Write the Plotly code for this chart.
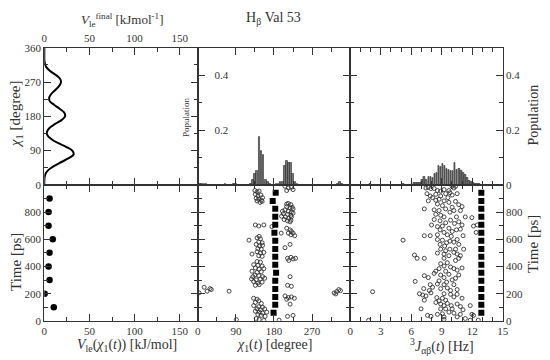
import plotly.graph_objects as go

# ---------------- data ----------------
# top-left: final local-elevation potential vs chi1
vle_chi = [0, 10, 20, 30, 40, 50, 60, 70, 80, 90, 100, 110, 120, 130, 140, 150, 160, 170, 180,
           190, 200, 210, 220, 230, 240, 250, 260, 270, 280, 290, 300, 310, 320, 330, 340, 350, 360]
vle_final = [0, 0, 0.3, 1.5, 5, 11, 19, 27, 32.5, 31, 24, 15, 8, 3.5, 3, 6, 12, 19, 23,
             22, 17, 11, 6, 5.5, 8, 12.5, 16.5, 18.5, 17, 12, 6, 2, 0.5, 0, 0, 0, 0]

# bottom-left: V_le(chi1(t)) snapshots
dot_time = [100, 200, 300, 400, 500, 600, 700, 800, 900]
dot_vle = [10.5, 0.4, 5.8, 4.7, 5.8, 9.4, 4.7, 4.7, 5.8]

# top-middle: chi1 population histogram
chi_bins = [5, 10, 15, 20, 65, 85, 90, 125, 130, 135, 140, 145, 150, 155, 160, 165, 170,
            185, 190, 195, 200, 205, 210, 215, 220, 225, 230, 235, 330, 335, 340]
chi_pop = [0.004, 0.004, 0.004, 0.004, 0.003, 0.004, 0.004, 0.005, 0.02, 0.04, 0.05, 0.175,
           0.125, 0.108, 0.02, 0.01, 0.003, 0.005, 0.005, 0.01, 0.01, 0.07, 0.086, 0.08,
           0.079, 0.04, 0.01, 0.005, 0.005, 0.012, 0.005]

# top-right: 3J population histogram
j_bins = [1.9, 5.2, 6.3, 6.5, 6.7, 6.9, 7.1, 7.3, 7.5, 7.7, 7.9, 8.1, 8.3, 8.5, 8.7, 8.9, 9.1,
          9.3, 9.5, 9.7, 9.9, 10.1, 10.3, 10.5, 10.7, 10.9, 11.1, 11.3, 11.5, 11.7, 11.9,
          12.1, 12.3, 12.5, 12.7]
j_pop = [0.004, 0.004, 0.006, 0.006, 0.006, 0.008, 0.02, 0.03, 0.02, 0.03, 0.03, 0.025, 0.04,
         0.045, 0.07, 0.065, 0.076, 0.07, 0.06, 0.055, 0.05, 0.05, 0.081, 0.055, 0.06, 0.05,
         0.045, 0.035, 0.025, 0.015, 0.01, 0.006, 0.005, 0.005, 0.004]

# bottom-middle: chi1(t) trajectory (open circles)
traj_chi = [135, 140, 145, 136, 142, 149, 138, 144, 150, 153, 140, 147, 152,
            206, 214, 221, 225, 210,
            214, 220, 210, 218, 223, 206, 214, 221, 202, 212, 220, 225, 207, 215, 221, 204,
            212, 220, 198, 210, 225, 218, 200,
            136, 144, 156, 175, 197,
            210, 218, 221, 225, 214, 229, 220,
            121, 140, 148, 144, 152, 138, 146, 153, 142, 150, 140, 148, 156, 144, 152, 128,
            218, 206, 145,
            212, 220, 225, 231, 215,
            140, 148, 132, 142, 152, 136, 145, 156, 128, 140, 150, 135, 144, 153, 127, 138,
            148, 132, 142, 152, 136, 145, 158, 130,
            218, 212, 221,
            206, 214, 221, 228, 210, 218,
            132, 140, 144, 136, 150, 132, 144, 153, 140, 148, 158, 136, 145, 153, 163, 142,
            150, 159, 138, 145, 156, 192, 212, 225,
            15, 22, 29, 32, 3, 74, 91, 322, 328, 333, 337, 326]
traj_time = [958, 949, 954, 930, 918, 925, 901, 894, 887, 906, 882, 871, 878,
             989, 977, 982, 965, 958,
             863, 854, 840, 830, 835, 816, 806, 799, 788, 783, 776, 792, 764, 754, 764, 745,
             735, 740, 769, 859, 823, 728, 806,
             705, 697, 705, 693, 645,
             681, 669, 657, 645, 645, 626, 633,
             593, 610, 603, 579, 574, 562, 550, 555, 531, 527, 508, 498, 503, 479, 474, 491,
             562, 538, 621,
             460, 467, 455, 460, 444,
             436, 432, 413, 408, 403, 389, 380, 384, 365, 356, 361, 337, 332, 325, 308, 301,
             308, 289, 278, 285, 261, 266, 313, 325,
             325, 261, 254,
             183, 171, 176, 166, 159, 123,
             166, 159, 147, 135, 128, 112, 104, 100, 88, 81, 88, 71, 64, 57, 64, 47,
             40, 33, 17, 10, 3, 5, 33, 40,
             247, 218, 237, 230, 206, 218, 9, 205, 215, 230, 222, 198]

# bottom-right: 3J(t) trajectory (open circles)
trajJ_j = [7.45, 7.68, 8.26, 8.58, 9.23, 9.71, 10.03, 10.2, 10.36, 9.81, 8.9, 7.94,
           7.55, 7.87, 8.42, 8.9, 9.39, 9.61, 10.03, 10.52, 8.74, 8.1,
           7.68, 8.42, 9.23, 9.71, 10.36, 10.68, 11.0, 8.58, 9.07, 10.03, 7.29,
           8.26, 8.74, 9.39, 9.81, 10.2, 10.84, 11.32, 11.97, 8.9, 9.23, 8.42, 10.45,
           8.26, 8.84, 9.39, 9.87, 10.26, 10.68, 11.0, 12.13, 12.5, 8.0, 8.58, 9.07,
           8.84, 9.23, 9.71, 10.03, 10.45, 10.84, 11.1, 12.39, 7.29, 7.87, 8.58, 9.55, 9.94,
           5.2, 8.58, 9.07, 9.48, 9.81, 10.2, 10.52, 8.84, 9.29, 10.68,
           8.9, 9.39, 9.81, 10.2, 10.36, 10.52, 10.84, 9.23, 9.71, 8.58, 11.16,
           6.32, 6.58, 7.29, 9.23, 10.68, 10.36,
           8.9, 9.23, 9.55, 9.87, 10.2, 10.52, 11.0, 8.74, 8.42, 9.39,
           7.29, 7.68, 6.39, 8.26, 8.9, 9.23, 9.71, 10.03, 10.36, 10.68, 8.74, 9.48,
           7.23, 7.87, 8.1, 8.58, 8.9, 9.23, 9.55, 9.87, 10.2, 10.52, 7.78,
           6.81, 7.13, 7.45, 7.29, 7.94, 8.52, 8.74, 9.07, 9.39, 9.87, 10.2, 10.52, 11.0, 9.23,
           8.42, 8.9, 9.23, 9.55, 9.94, 10.52, 10.84, 11.81, 6.97, 8.9, 9.39, 10.03, 11.1,
           7.61, 7.94, 8.58, 9.07, 9.23, 9.71, 10.2, 10.84, 10.52, 11.97, 9.23, 11.32, 11.81,
           12.6, 12.13,
           2.2, 1.8]
trajJ_time = [977, 982, 973, 958, 965, 958, 989, 977, 989, 942, 954, 973,
              935, 918, 930, 918, 935, 906, 925, 935, 894, 906,
              882, 887, 882, 871, 878, 854, 840, 859, 847, 835, 823,
              816, 811, 823, 799, 811, 811, 764, 759, 776, 764, 783, 764,
              745, 735, 721, 740, 716, 728, 705, 697, 705, 705, 693, 697,
              669, 650, 681, 657, 669, 674, 626, 650, 626, 626, 633, 633, 621,
              593, 598, 593, 574, 586, 579, 598, 562, 550, 562,
              527, 515, 527, 503, 527, 491, 479, 491, 479, 498, 527,
              484, 460, 460, 460, 460, 444,
              420, 403, 427, 396, 384, 373, 389, 384, 365, 365,
              332, 318, 290, 349, 337, 318, 342, 301, 313, 337, 294, 285,
              237, 266, 247, 271, 237, 266, 242, 223, 266, 230, 223,
              199, 190, 183, 152, 206, 171, 147, 166, 152, 195, 176, 195, 166, 199,
              135, 124, 112, 128, 112, 124, 105, 112, 88, 88, 88, 88, 81,
              40, 33, 48, 52, 29, 64, 57, 48, 29, 48, 10, 17, 5,
              5, 40,
              214, 3]

# constraint targets (filled squares)
sq_time = [59, 118, 176, 235, 294, 353, 412, 471, 529, 588, 647, 706, 765, 824, 882, 941]
sq_chi = [179, 183, 183, 183, 183, 185, 183, 183, 183, 183, 181, 183, 183, 183, 177, 184]
sq_j = [12.9, 12.9, 12.9, 12.9, 12.9, 12.9, 12.9, 12.9, 12.9, 12.9, 12.9, 12.9, 12.9, 12.9, 12.9, 12.9]

# ---------------- layout helpers ----------------
W, H = 550, 360
FONT = "Liberation Serif"
INK = "#333333"


def px(xp):
    return xp / W


def py(yp):
    return 1 - yp / H


xL = [px(42), px(198)]
xM = [px(198), px(353)]
xR = [px(353), px(508)]
yT = [py(185), py(43.3)]
yB = [py(325.7), py(185)]


def rng(a, b, s):
    out = []
    v = a
    while v <= b + 1e-9:
        out.append(round(v, 6))
        v += s
    return out


def ax(domain, anchor, rngv, tickvals, minorvals, show=True, **kw):
    d = dict(domain=domain, anchor=anchor, range=rngv, showline=True, linecolor=INK,
             linewidth=1, mirror="allticks", ticks="inside", ticklen=7, tickwidth=1,
             tickcolor=INK, showgrid=False, zeroline=False, tickmode="array",
             tickvals=tickvals, showticklabels=show,
             tickfont=dict(family=FONT, size=11, color=INK),
             minor=dict(ticks="inside", ticklen=4, tickcolor=INK, tickwidth=1,
                        tickmode="array", tickvals=minorvals, showgrid=False))
    d.update(kw)
    return d


fig = go.Figure()

fig.add_trace(go.Scatter(x=vle_final, y=vle_chi, mode="lines", line=dict(color="black", width=2, shape="spline"),
                         xaxis="x", yaxis="y", showlegend=False))
fig.add_trace(go.Bar(x=chi_bins, y=chi_pop, width=3.8, marker=dict(color="#7a7a7a", line=dict(color="#222", width=0.6)),
                     xaxis="x2", yaxis="y2", showlegend=False))
fig.add_trace(go.Bar(x=j_bins, y=j_pop, width=0.15, marker=dict(color="#7a7a7a", line=dict(color="#222", width=0.6)),
                     xaxis="x3", yaxis="y3", showlegend=False))
fig.add_trace(go.Scatter(x=dot_vle, y=dot_time, mode="markers", marker=dict(color="black", size=6.5),
                         xaxis="x4", yaxis="y4", showlegend=False))
fig.add_trace(go.Scatter(x=traj_chi, y=traj_time, mode="markers",
                         marker=dict(symbol="circle-open", color="#333", size=4, line=dict(width=0.9)),
                         xaxis="x5", yaxis="y5", showlegend=False))
fig.add_trace(go.Scatter(x=sq_chi, y=sq_time, mode="markers", marker=dict(symbol="square", color="black", size=6),
                         xaxis="x5", yaxis="y5", showlegend=False))
fig.add_trace(go.Scatter(x=trajJ_j, y=trajJ_time, mode="markers",
                         marker=dict(symbol="circle-open", color="#333", size=4, line=dict(width=0.9)),
                         xaxis="x6", yaxis="y6", showlegend=False))
fig.add_trace(go.Scatter(x=sq_j, y=sq_time, mode="markers", marker=dict(symbol="square", color="black", size=6),
                         xaxis="x6", yaxis="y6", showlegend=False))

fig.update_layout(
    width=W, height=H, margin=dict(l=0, r=0, t=0, b=0),
    paper_bgcolor="white", plot_bgcolor="white", bargap=0,
    font=dict(family=FONT, color=INK),
    xaxis=ax(xL, "y", [0, 170], [0, 50, 100, 150], rng(0, 170, 25), side="top"),
    yaxis=ax(yT, "x", [0, 360], [0, 90, 180, 270, 360], rng(0, 360, 45)),
    xaxis2=ax(xM, "y2", [0, 360], [0, 90, 180, 270, 360], rng(0, 360, 45), show=False),
    yaxis2=ax(yT, "x2", [0, 0.5], [0.2, 0.4], rng(0, 0.5, 0.1), ticklabelposition="inside",
              ticklabelstandoff=9),
    xaxis3=ax(xR, "y3", [0, 15], [0, 3, 6, 9, 12, 15], rng(0, 15, 1), show=False),
    yaxis3=ax(yT, "x3", [0, 0.5], [0, 0.2, 0.4], rng(0, 0.5, 0.1), side="right"),
    xaxis4=ax(xL, "y4", [0, 170], [0, 50, 100, 150], rng(0, 170, 25)),
    yaxis4=ax(yB, "x4", [0, 1000], [0, 200, 400, 600, 800], rng(0, 1000, 100)),
    xaxis5=ax(xM, "y5", [0, 360], [0, 90, 180, 270], rng(0, 360, 45)),
    yaxis5=ax(yB, "x5", [0, 1000], rng(0, 1000, 200), rng(0, 1000, 100), show=False),
    xaxis6=ax(xR, "y6", [0, 15], [0, 3, 6, 9, 12, 15], rng(0, 15, 1)),
    yaxis6=ax(yB, "x6", [0, 1000], [0, 200, 400, 600, 800], rng(0, 1000, 100), side="right"),
)


def note(text, x, y, size, angle=0, xanchor="center"):
    fig.add_annotation(text=text, x=px(x), y=py(y), xref="paper", yref="paper", showarrow=False,
                       textangle=angle, xanchor=xanchor, yanchor="middle",
                       font=dict(family=FONT, size=size, color=INK))


note("H<sub>β</sub> Val 53", 275, 13, 14)
note("<i>V</i><sub>le</sub><sup>final</sup> [kJmol<sup>-1</sup>]", 121, 15, 13)
note("<i>χ</i><sub>1</sub> [degree]", 13, 112, 15, -90)
note("Population", 186, 115, 9, -90)
note("Population", 539, 113, 14, -90)
note("Time [ps]", 13, 265, 15, -90)
note("Time [ps]", 539, 246, 15, -90)
note("<i>V</i><sub>le</sub>(<i>χ</i><sub>1</sub>(<i>t</i>)) [kJ/mol]", 126, 351, 14)
note("<i>χ</i><sub>1</sub>(<i>t</i>) [degree]", 276, 351, 14)
note("<sup>3</sup><i>J</i><sub>αβ</sub>(<i>t</i>) [Hz]", 446, 352, 14)

fig.write_html("out.html")
